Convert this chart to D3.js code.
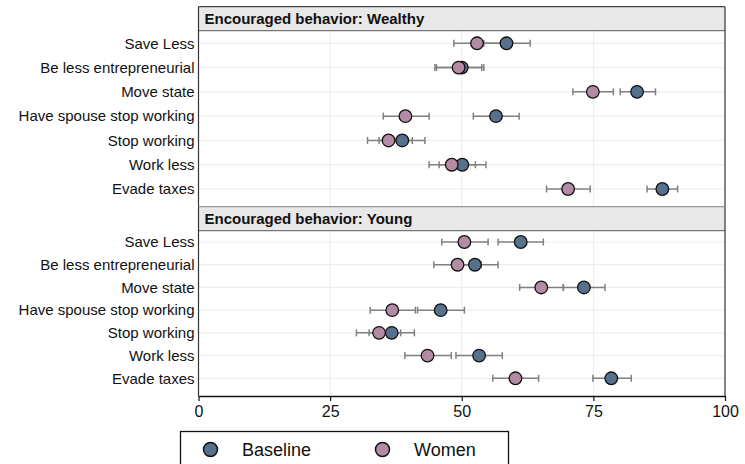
<!DOCTYPE html>
<html>
<head>
<meta charset="utf-8">
<script src="https://cdn.jsdelivr.net/npm/d3@7"></script>
<style>
  body { margin: 0; background: #fff; }
  text { font-family: "Liberation Sans", Arial, sans-serif; }
</style>
</head>
<body>
<div id="chart"></div>
<script>
// categories (same order in both panels)
var behaviors = ["Save Less", "Be less entrepreneurial", "Move state",
  "Have spouse stop working", "Stop working", "Work less", "Evade taxes"];

// Wealthy panel
var wealthyBase   = [58.5, 50.0, 83.3, 56.5, 38.7, 50.1, 88.1];
var wealthyBaseLo = [54.2, 45.2, 80.1, 52.2, 34.3, 45.7, 85.2];
var wealthyBaseHi = [63.0, 54.2, 86.8, 60.9, 43.0, 54.6, 91.0];
var wealthyWomen   = [52.9, 49.4, 74.9, 39.3, 36.1, 48.1, 70.2];
var wealthyWomenLo = [48.5, 44.9, 71.1, 35.1, 32.1, 43.8, 66.1];
var wealthyWomenHi = [57.4, 53.8, 78.8, 43.8, 40.6, 52.6, 74.4];

// Young panel
var youngBase   = [61.2, 52.5, 73.2, 46.0, 36.7, 53.3, 78.4];
var youngBaseLo = [56.9, 48.1, 69.3, 41.6, 32.4, 48.9, 74.9];
var youngBaseHi = [65.5, 56.9, 77.2, 50.5, 41.0, 57.7, 82.2];
var youngWomen   = [50.5, 49.2, 65.1, 36.8, 34.3, 43.5, 60.2];
var youngWomenLo = [46.2, 44.7, 61.0, 32.6, 30.0, 39.2, 55.9];
var youngWomenHi = [55.0, 53.7, 69.3, 41.2, 38.4, 48.0, 64.6];

var xTicks = [0, 25, 50, 75, 100];
var seriesNames = ["Baseline", "Women"];
var seriesColors = ["#56718d", "#b48ba5"];

var w = 745, h = 464;
var left = 198.5, right = 725;

var svg = d3.select("#chart").append("svg")
  .attr("width", w)
  .attr("height", h);

var x = d3.scaleLinear().domain([0, 100]).range([left, right]);

var panels = [
  { title: "Encouraged behavior: Wealthy", top: 6.7, headerH: 24, bottom: 206.7,
    rowFirst: 43.3, rowLast: 189,
    series: [
      { mid: wealthyBase, lo: wealthyBaseLo, hi: wealthyBaseHi },
      { mid: wealthyWomen, lo: wealthyWomenLo, hi: wealthyWomenHi }
    ] },
  { title: "Encouraged behavior: Young", top: 206.7, headerH: 24, bottom: 396,
    rowFirst: 242, rowLast: 378.3,
    series: [
      { mid: youngBase, lo: youngBaseLo, hi: youngBaseHi },
      { mid: youngWomen, lo: youngWomenLo, hi: youngWomenHi }
    ] }
];

panels.forEach(function(p, pi) {
  var plotTop = p.top + p.headerH;
  var y = d3.scalePoint().domain(behaviors).range([p.rowFirst, p.rowLast]);
  var g = svg.append("g");

  // grid lines
  g.selectAll(".vgrid")
    .data(xTicks.slice(1, -1))
    .enter().append("line")
    .attr("x1", d => x(d)).attr("x2", d => x(d))
    .attr("y1", plotTop).attr("y2", p.bottom)
    .attr("stroke", "#ebebeb").attr("stroke-width", 1);

  g.selectAll(".hgrid")
    .data(behaviors)
    .enter().append("line")
    .attr("x1", left).attr("x2", right)
    .attr("y1", d => y(d)).attr("y2", d => y(d))
    .attr("stroke", "#eeeeee").attr("stroke-width", 1.2);

  // header strip
  g.append("rect")
    .attr("x", left).attr("y", p.top)
    .attr("width", right - left).attr("height", p.headerH)
    .attr("fill", "#e8e8e8");
  g.append("line")
    .attr("x1", left).attr("x2", right)
    .attr("y1", plotTop).attr("y2", plotTop)
    .attr("stroke", "#777").attr("stroke-width", 1.2);
  g.append("line")
    .attr("x1", left).attr("x2", right)
    .attr("y1", p.top).attr("y2", p.top)
    .attr("stroke", pi == 0 ? "#444" : "#999").attr("stroke-width", 1.2);
  g.append("text")
    .attr("x", left + 6).attr("y", p.top + 17.5)
    .style("font-size", "15px").style("font-weight", "bold")
    .attr("fill", "#111")
    .text(p.title);

  // side borders
  g.append("line")
    .attr("x1", left).attr("x2", left)
    .attr("y1", p.top).attr("y2", p.bottom)
    .attr("stroke", "#333").attr("stroke-width", 1.2);
  g.append("line")
    .attr("x1", right).attr("x2", right)
    .attr("y1", p.top).attr("y2", p.bottom)
    .attr("stroke", "#333").attr("stroke-width", 1.2);

  // category labels
  g.selectAll(".lab")
    .data(behaviors)
    .enter().append("text")
    .attr("x", left - 4)
    .attr("y", d => y(d))
    .attr("dy", "0.35em")
    .attr("text-anchor", "end")
    .style("font-size", "15px")
    .attr("fill", "#111")
    .text(d => d);

  // error bars (all series first)
  p.series.forEach(function(s) {
    var bars = g.append("g").selectAll("g")
      .data(behaviors)
      .enter().append("g")
      .attr("stroke", "#808080").attr("stroke-width", 1.5);
    bars.append("line")
      .attr("x1", (d, i) => x(s.lo[i])).attr("x2", (d, i) => x(s.hi[i]))
      .attr("y1", d => y(d)).attr("y2", d => y(d));
    bars.append("line")
      .attr("x1", (d, i) => x(s.lo[i])).attr("x2", (d, i) => x(s.lo[i]))
      .attr("y1", d => y(d) - 3.5).attr("y2", d => y(d) + 3.5);
    bars.append("line")
      .attr("x1", (d, i) => x(s.hi[i])).attr("x2", (d, i) => x(s.hi[i]))
      .attr("y1", d => y(d) - 3.5).attr("y2", d => y(d) + 3.5);
  });

  // points
  p.series.forEach(function(s, si) {
    g.append("g").selectAll("circle")
      .data(behaviors)
      .enter().append("circle")
      .attr("cx", (d, i) => x(s.mid[i]))
      .attr("cy", d => y(d))
      .attr("r", 6.3)
      .attr("fill", seriesColors[si])
      .attr("stroke", "#111")
      .attr("stroke-width", 1.3);
  });
});

// bottom axis
var axisY = panels[1].bottom;
var axis = svg.append("g")
  .attr("transform", "translate(0," + axisY + ")")
  .call(d3.axisBottom(x).tickValues(xTicks).tickSize(5).tickPadding(5).tickSizeOuter(0));
axis.select(".domain").attr("stroke", "#111").attr("stroke-width", 1.3);
axis.selectAll(".tick line").attr("stroke", "#111").attr("stroke-width", 1.2);
axis.selectAll(".tick text")
  .style("font-size", "16px")
  .style("font-family", "Liberation Sans, Arial, sans-serif")
  .attr("fill", "#111");

// legend
var legend = svg.append("g");
legend.append("rect")
  .attr("x", 180.5).attr("y", 431.5)
  .attr("width", 328).attr("height", 40)
  .attr("fill", "#fff").attr("stroke", "#111").attr("stroke-width", 1.3);

var legX = d3.scalePoint().domain(seriesNames).range([210.5, 382.5]);
var items = legend.selectAll(".item")
  .data(seriesNames)
  .enter().append("g");
items.append("circle")
  .attr("cx", d => legX(d)).attr("cy", 449.5)
  .attr("r", 7)
  .attr("fill", (d, i) => seriesColors[i])
  .attr("stroke", "#111").attr("stroke-width", 1.5);
items.append("text")
  .attr("x", d => legX(d) + 31.5).attr("y", 449.5)
  .attr("dy", "0.36em")
  .style("font-size", "18px")
  .attr("fill", "#111")
  .text(d => d);
</script>
</body>
</html>
